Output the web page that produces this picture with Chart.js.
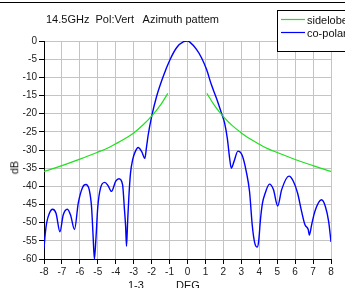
<!DOCTYPE html>
<html>
<head>
<meta charset="utf-8">
<title>Azimuth pattern</title>
<script src="https://cdn.jsdelivr.net/npm/chart.js@4.4.1/dist/chart.umd.min.js"></script>
<style>
    html, body { margin: 0; padding: 0; background: #fff; }
    body { width: 345px; height: 288px; overflow: hidden; position: relative; font-family: Arial, "Liberation Sans", sans-serif; color: #111; }
    #chart { position: absolute; left: 0; top: 0; }
    .txt { position: absolute; font-size: 11px; line-height: 11px; white-space: pre; }
    #topRule { position: absolute; left: 0; top: 2px; width: 345px; height: 1px; background: #000; }
    #legend { position: absolute; left: 277px; top: 10px; width: 90px; height: 40px; border: 1px solid #000; background: #fff; }
    #legend svg { position: absolute; left: 0; top: 0; }
    #legend .lbl { position: absolute; left: 29px; font-size: 11px; line-height: 11px; white-space: pre; }
    #yTitle { position: absolute; left: 8px; top: 162px; font-size: 11px; line-height: 11px; transform: rotate(-90deg); transform-origin: center; }
</style>
</head>
<body>
<div id="topRule"></div>
<canvas id="chart" width="345" height="288"></canvas>
<div class="txt" style="left:46px; top:14px;">14.5GHz  Pol:Vert   Azimuth pattem</div>
<div id="legend">
    <svg width="30" height="40">
        <line x1="3" y1="8.5" x2="27" y2="8.5" stroke="#1ee01e" stroke-width="1.2"/>
        <line x1="3" y1="21.5" x2="27" y2="21.5" stroke="#0000ff" stroke-width="1.2"/>
    </svg>
    <div class="lbl" style="top:4px;">sidelobe</div>
    <div class="lbl" style="top:17px;">co-polar</div>
</div>
<div id="yTitle">dB</div>
<div class="txt" style="left:128px; top:280px;">1-3</div>
<div class="txt" style="left:176px; top:280px;">DEG</div>

<script>
const copolarDeg = [
    -8.0, -7.93, -7.85, -7.7, -7.52, -7.33, -7.11, -6.93, -6.7, -6.52,
    -6.3, -6.09, -5.85, -5.67, -5.48, -5.35, -5.26, -5.19, -5.11, -5.0,
    -4.85, -4.61, -4.43, -4.24, -4.0, -3.82, -3.62, -3.52, -3.45, -3.4,
    -3.34, -3.27, -3.18, -3.05, -2.9, -2.75, -2.56, -2.38, -2.28, -2.19,
    -2.0, -1.72, -1.35, -0.97, -0.6, -0.22, 0, 0.13, 0.5, 0.78,
    1.06, 1.33, 1.61, 1.89, 2.07, 2.22, 2.35, 2.44, 2.59, 2.81,
    3.04, 3.28, 3.46, 3.61, 3.74, 3.89, 3.97, 4.07, 4.18, 4.33,
    4.57, 4.79, 5.03, 5.25, 5.66, 5.9, 6.14, 6.36, 6.55, 6.73,
    6.79, 6.92, 7.1, 7.47, 7.69, 7.87, 8.0
];
const copolarDb = [
    -57.1, -53.0, -50.0, -47.4, -46.3, -47.4, -52.5, -47.9, -46.3, -47.9,
    -51.9, -44.6, -40.3, -39.5, -40.9, -45.6, -53.9, -60, -54.8, -45.6,
    -40.5, -38.9, -39.8, -41.4, -38.6, -37.9, -39.5, -46, -51, -56.5,
    -50, -43, -36.5, -32.5, -30.3, -29.3, -30.4, -32.3, -29, -25.8,
    -20.8, -15.2, -9.7, -5.1, -1.8, -0.2, 0, -0.3, -2.3, -4.6,
    -7.8, -12, -15.7, -19.8, -22.6, -26.8, -32.3, -35, -33.2, -30.3,
    -31.4, -36, -41.5, -50.7, -55.4, -56.7, -55, -49, -44.6, -41.9,
    -39.4, -40.9, -45.4, -40.9, -37.2, -38.6, -41.9, -46.9, -50.6, -51.9,
    -53.4, -50.6, -46.9, -43.7, -45.6, -49.7, -55.3
];

// Sidelobe envelope, two branches
const sideLeftDeg = [-8, -7, -6, -5, -4.5, -4, -3.5, -3, -2.5, -2, -1.5, -1.1];
const sideLeftDb = [-35.9, -34.3, -32.5, -30.6, -29.6, -28.3, -26.9, -25.3, -23.2, -20.7, -17.6, -14.4];
const sideRightDeg = [1.08, 1.5, 2, 2.5, 3, 3.5, 4, 4.5, 5, 6, 7, 8];
const sideRightDb = [-14.4, -17.7, -20.8, -23.3, -25.3, -27, -28.4, -29.7, -30.7, -32.6, -34.3, -35.9];

// Axis ticks
const degTicks = [-8, -7, -6, -5, -4, -3, -2, -1, 0, 1, 2, 3, 4, 5, 6, 7, 8];
const dbTicks = [0, -5, -10, -15, -20, -25, -30, -35, -40, -45, -50, -55, -60];

function toPoints(xs, ys) {
    return xs.map((x, i) => ({ x: x, y: ys[i] }));
}

const gridOpts = {
    color: '#c4c4c4',
    lineWidth: 1,
    borderDash: [2, 2],
    tickColor: '#000',
    tickBorderDash: [],
    tickLength: 5,
    tickWidth: 1
};

Chart.defaults.font.family = 'Arial, "Liberation Sans", sans-serif';
Chart.defaults.font.size = 10;
Chart.defaults.color = '#222';

new Chart(document.getElementById('chart').getContext('2d'), {
    type: 'line',
    data: {
        datasets: [
            {
                label: 'sidelobe',
                data: toPoints(sideLeftDeg, sideLeftDb),
                borderColor: '#1ee01e',
                borderWidth: 1.2,
                pointRadius: 0,
                tension: 0.4
            },
            {
                label: 'sidelobe',
                data: toPoints(sideRightDeg, sideRightDb),
                borderColor: '#1ee01e',
                borderWidth: 1.2,
                pointRadius: 0,
                tension: 0.4
            },
            {
                label: 'co-polar',
                data: toPoints(copolarDeg, copolarDb),
                borderColor: '#0000ff',
                borderWidth: 1.4,
                pointRadius: 0,
                cubicInterpolationMode: 'monotone'
            }
        ]
    },
    options: {
        responsive: false,
        animation: false,
        layout: { padding: { top: 41, right: 14, left: 0, bottom: 0 } },
        scales: {
            x: {
                type: 'linear',
                min: -8,
                max: 8,
                afterFit: (s) => { s.height = 29; },
                afterBuildTicks: (s) => { s.ticks = degTicks.map(v => ({ value: v })); },
                grid: gridOpts,
                border: { display: true, color: '#000', width: 1 },
                ticks: { padding: 2, maxRotation: 0, autoSkip: false }
            },
            y: {
                type: 'linear',
                min: -60,
                max: 0,
                afterFit: (s) => { s.width = 44; },
                afterBuildTicks: (s) => { s.ticks = dbTicks.map(v => ({ value: v })); },
                grid: gridOpts,
                border: { display: true, color: '#000', width: 1 },
                ticks: { padding: 2, autoSkip: false }
            }
        },
        plugins: {
            legend: { display: false },
            title: { display: false },
            tooltip: { enabled: false }
        }
    }
});
</script>
</body>
</html>
